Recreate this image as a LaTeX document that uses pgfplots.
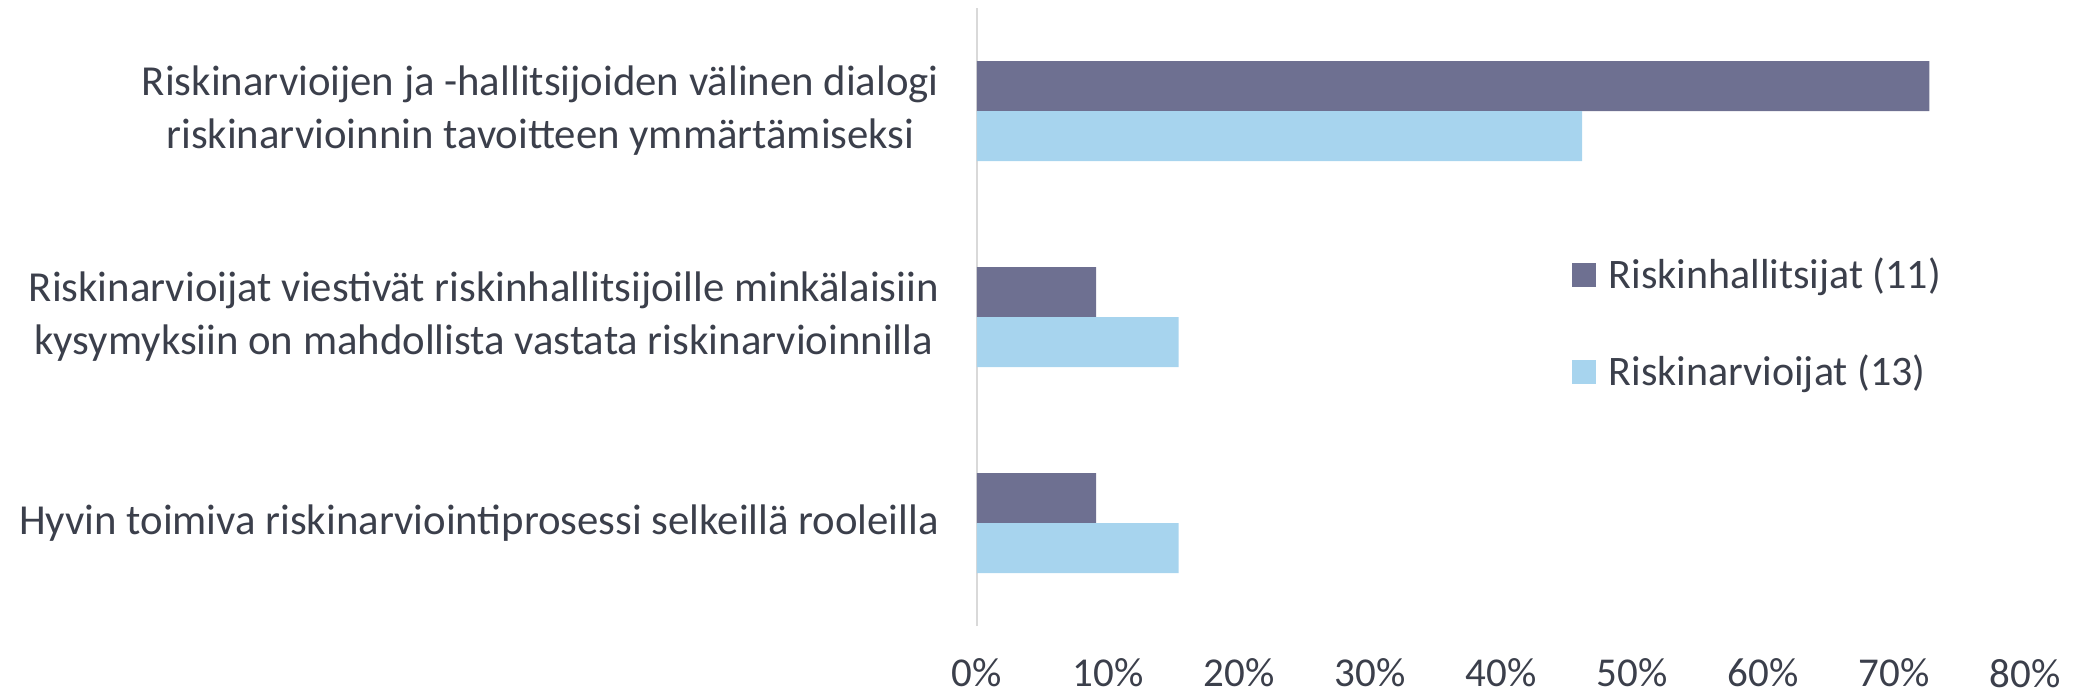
\documentclass[border=0pt]{standalone}
\usepackage{fontspec}
\setmainfont{Carlito}
\usepackage{pgfplots}
\pgfplotsset{compat=1.18}
\definecolor{darkbar}{HTML}{6E7091}
\definecolor{lightbar}{HTML}{A7D4EE}
\definecolor{txt}{HTML}{3B3F4B}
\definecolor{axisgray}{HTML}{D9D9D9}
\begin{document}
\begin{tikzpicture}
\useasboundingbox (0,0) rectangle (836pt,279.2pt);
\begin{axis}[
  at={(390.8pt,28.8pt)}, anchor=south west,
  width=419.2pt, height=247.2pt, scale only axis,
  xbar, bar width=20pt,
  xmin=0, xmax=80, ymin=-0.5, ymax=2.5,
  axis line style={draw=none},
  xtick={0,10,...,80},
  xticklabel={\pgfmathprintnumber{\tick}\%},
  /pgf/number format/assume math mode=true,
  ytick={0,1,2},
  yticklabels={{Hyvin toimiva riskinarviointiprosessi selkeillä rooleilla},
    {Riskinarvioijat viestivät riskinhallitsijoille minkälaisiin\\kysymyksiin on mahdollista vastata riskinarvioinnilla},
    {Riskinarvioijen ja -hallitsijoiden välinen dialogi\\riskinarvioinnin tavoitteen ymmärtämiseksi}},
  major tick length=0pt,
  tick style={draw=none},
  tick label style={text=txt},
  yticklabel style={font=\fontsize{17.1}{21.2}\selectfont, align=center, inner sep=0pt, xshift=-15pt},
  xticklabel style={font=\fontsize{16.4}{19.7}\selectfont, inner sep=0pt, anchor=north, yshift=-13pt},
  legend style={at={(rel axis cs:0.56,0.49)}, anchor=west, draw=none, fill=none,
    font=\fontsize{16.8}{20.2}\selectfont, text=txt, row sep=25pt,
    nodes={inner sep=0pt}},
  legend cell align=left,
  legend image code/.code={\fill[#1] (0pt,-4.8pt) rectangle (9.6pt,4.8pt);},
  clip=false,
]
\draw[axisgray, line width=0.8pt] (axis cs:0,-0.5) -- (axis cs:0,2.5);
\addplot[fill=darkbar, draw=none, bar shift=10pt] coordinates {(9.1,0) (9.1,1) (72.7,2)};
\addplot[fill=lightbar, draw=none, bar shift=-10pt] coordinates {(15.4,0) (15.4,1) (46.2,2)};
\legend{\hspace{5.2pt}Riskinhallitsijat (11),\hspace{5.2pt}Riskinarvioijat (13)}
\end{axis}
\end{tikzpicture}
\end{document}
